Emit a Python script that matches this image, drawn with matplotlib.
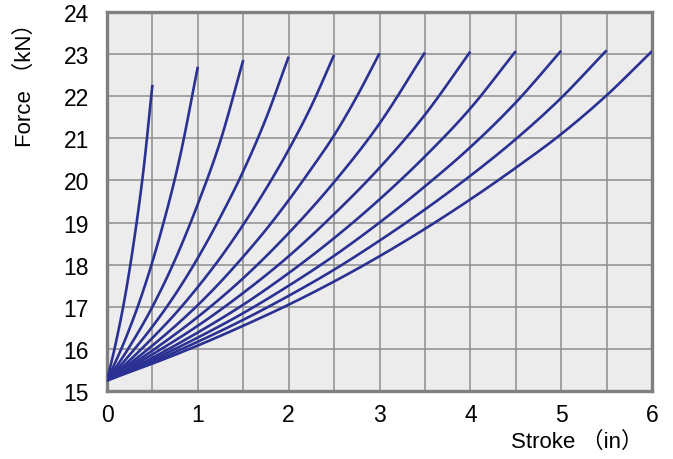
import matplotlib
matplotlib.use("Agg")
import numpy as np
import matplotlib.pyplot as plt
from matplotlib.ticker import MultipleLocator

plt.rcParams['font.family'] = ['Liberation Sans', 'Noto Sans CJK SC', 'DejaVu Sans']

# force (kN) vs stroke (in), one curve per nominal stroke
x1 = [0, 0.1, 0.2, 0.3, 0.4, 0.5]
y1 = [15.25, 16.17, 17.26, 18.61, 20.22, 22.27]
x2 = [0, 0.2, 0.4, 0.6, 0.8, 1.0]
y2 = [15.25, 16.22, 17.39, 18.82, 20.53, 22.70]
x3 = [0, 0.25, 0.5, 0.75, 1.0, 1.25, 1.5]
y3 = [15.25, 16.06, 17.00, 18.12, 19.44, 20.95, 22.86]
x4 = [0, 0.25, 0.5, 0.75, 1.0, 1.25, 1.5, 1.75, 2.0]
y4 = [15.25, 15.86, 16.53, 17.29, 18.16, 19.14, 20.22, 21.47, 22.94]
x5 = [0, 0.25, 0.5, 0.75, 1.0, 1.25, 1.5, 1.75, 2.0, 2.25, 2.5]
y5 = [15.25, 15.73, 16.26, 16.83, 17.47, 18.17, 18.95, 19.80, 20.73, 21.77, 22.98]
x6 = [0, 0.25, 0.5, 0.75, 1.0, 1.25, 1.5, 1.75, 2.0, 2.25, 2.5, 2.75, 3.0]
y6 = [15.25, 15.65, 16.08, 16.54, 17.04, 17.59, 18.19, 18.83, 19.53, 20.28, 21.07, 21.99, 23.02]
x7 = [0, 0.5, 1.0, 1.5, 2.0, 2.5, 3.0, 3.5]
y7 = [15.25, 15.96, 16.76, 17.68, 18.75, 19.96, 21.35, 23.04]
x8 = [0, 0.5, 1.0, 1.5, 2.0, 2.5, 3.0, 3.5, 4.0]
y8 = [15.25, 15.87, 16.55, 17.33, 18.20, 19.20, 20.30, 21.56, 23.06]
x9 = [0, 0.5, 1.0, 1.5, 2.0, 2.5, 3.0, 3.5, 4.0, 4.5]
y9 = [15.25, 15.79, 16.39, 17.05, 17.80, 18.63, 19.55, 20.57, 21.71, 23.07]
x10 = [0, 0.5, 1.0, 1.5, 2.0, 2.5, 3.0, 3.5, 4.0, 4.5, 5.0]
y10 = [15.25, 15.74, 16.27, 16.85, 17.50, 18.21, 19.00, 19.86, 20.79, 21.85, 23.08]
x11 = [0, 0.5, 1.0, 1.5, 2.0, 2.5, 3.0, 3.5, 4.0, 4.5, 5.0, 5.5]
y11 = [15.25, 15.69, 16.17, 16.69, 17.26, 17.88, 18.57, 19.31, 20.11, 20.98, 21.96, 23.09]
x12 = [0, 0.5, 1.0, 1.5, 2.0, 2.5, 3.0, 3.5, 4.0, 4.5, 5.0, 5.5, 6.0]
y12 = [15.25, 15.65, 16.08, 16.55, 17.05, 17.60, 18.20, 18.85, 19.55, 20.30, 21.10, 22.02, 23.07]

curves = [(x1, y1), (x2, y2), (x3, y3), (x4, y4), (x5, y5), (x6, y6),
          (x7, y7), (x8, y8), (x9, y9), (x10, y10), (x11, y11), (x12, y12)]


def smooth(xs, ys, nsub=12):
    # catmull-rom through the read points, only so the drawn line has no kinks
    p = np.column_stack([xs, ys]).astype(float)
    n = len(p)
    m = np.zeros_like(p)
    m[1:-1] = (p[2:] - p[:-2]) / 2
    m[0] = p[1] - p[0]
    m[-1] = p[-1] - p[-2]
    out = [p[0]]
    t = np.linspace(0, 1, nsub + 1)[1:, None]
    h00 = 2 * t**3 - 3 * t**2 + 1
    h10 = t**3 - 2 * t**2 + t
    h01 = -2 * t**3 + 3 * t**2
    h11 = t**3 - t**2
    for i in range(n - 1):
        seg = h00 * p[i] + h10 * m[i] + h01 * p[i + 1] + h11 * m[i + 1]
        out.extend(seg)
    out = np.array(out)
    return out[:, 0], out[:, 1]


fig = plt.figure(figsize=(6.73, 4.60), dpi=100)
ax = fig.add_axes([107 / 673, 1 - 392 / 460, 545 / 673, 379 / 460])
ax.set_facecolor('#ececec')

for xs, ys in curves:
    sx, sy = smooth(xs, ys)
    ax.plot(sx, sy, color='#2b3192', lw=1.9, solid_capstyle='butt', zorder=3)

ax.set_xlim(0, 6)
ax.set_ylim(15, 24)
ax.xaxis.set_major_locator(MultipleLocator(1))
ax.xaxis.set_minor_locator(MultipleLocator(0.5))
ax.yaxis.set_major_locator(MultipleLocator(1))
ax.grid(True, which='both', color='#8e8e8e', lw=1.1, zorder=1)
ax.set_axisbelow(True)
ax.tick_params(which='both', length=0, labelsize=16.5, colors='black')
ax.tick_params(axis='y', pad=13)
ax.tick_params(axis='x', pad=9)
for s in ax.spines.values():
    s.set_color('#808080')
    s.set_linewidth(2.4)

fig.text(25 / 673, 1 - 80 / 460, 'Force （kN）', rotation=90, ha='center', va='center', fontsize=16)
fig.text(643 / 673, 1 - 442 / 460, 'Stroke （in）', ha='right', va='center', fontsize=16)

fig.savefig('out.png', dpi=100)
